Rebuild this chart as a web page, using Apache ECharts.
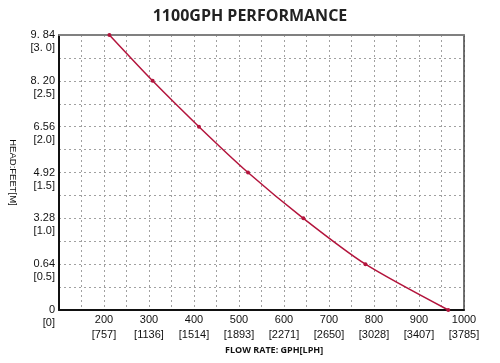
<!DOCTYPE html>
<html>
<head>
<meta charset="utf-8">
<script src="https://cdn.jsdelivr.net/npm/echarts@6/dist/echarts.min.js"></script>
<style>html,body{margin:0;padding:0;background:#fff;}#c{width:500px;height:363px;}</style>
</head>
<body>
<div id="c"></div>
<script>
// Flow (GPH) vs head (metres)
var flowGph = [212, 308, 411, 520, 643, 781, 965];
var headM   = [3.0, 2.5, 2.0, 1.5, 1.0, 0.5, 0.0];

// X tick labels
var xTickGph = [200, 300, 400, 500, 600, 700, 800, 900, 1000];
var xTickLph = ['[757]', '[1136]', '[1514]', '[1893]', '[2271]', '[2650]', '[3028]', '[3407]', '[3785]'];

// Y tick labels (metres -> feet text as printed)
var yTickM    = [0, 0.5, 1.0, 1.5, 2.0, 2.5, 3.0];
var yTickFeet = ['0', '0.64', '3.28', '4.92', '6.56', '8. 20', '9. 84'];
var yTickMTxt = ['[0]', '[0.5]', '[1.0]', '[1.5]', '[2.0]', '[2.5]', '[3. 0]'];

var chart = echarts.init(document.getElementById('c'), null, {renderer: 'canvas'});
var FONT = '"Liberation Sans", Arial, sans-serif';
var gridLine = {show: true, lineStyle: {color: '#a0a0a0', width: 1, type: [2, 3]}};

var data = flowGph.map(function (f, i) { return [f, headM[i]]; });

chart.setOption({
  animation: false,
  backgroundColor: '#ffffff',
  title: {
    text: '1100GPH PERFORMANCE',
    left: 'center',
    top: 3,
    textStyle: {fontFamily: '"Open Sans", sans-serif', fontWeight: 'bold', fontSize: 16, color: '#222'}
  },
  grid: {left: 52, right: 36, top: 35, bottom: 53, containLabel: false},
  xAxis: [{
    type: 'value', min: 100, max: 1000, interval: 50,
    axisLine: {show: true, onZero: false, lineStyle: {color: '#111', width: 2}},
    axisTick: {show: false},
    splitLine: gridLine,
    axisLabel: {
      show: true, margin: 2, verticalAlign: 'top', lineHeight: 15,
      fontFamily: FONT, fontSize: 11, color: '#111',
      showMinLabel: false, showMaxLabel: true,
      formatter: function (v) {
        var i = xTickGph.indexOf(Math.round(v));
        return i < 0 ? '' : xTickGph[i] + '\n' + xTickLph[i];
      }
    }
  }, {
    type: 'value', min: 100, max: 1000, position: 'top',
    axisLine: {show: true, onZero: false, lineStyle: {color: '#808080', width: 2}},
    axisTick: {show: false}, axisLabel: {show: false}, splitLine: {show: false}
  }],
  yAxis: [{
    type: 'value', min: 0, max: 3, interval: 0.25,
    name: 'HEAD:FEET[M]', nameLocation: 'middle', nameRotate: -90, nameGap: 41,
    nameTextStyle: {fontFamily: FONT, fontSize: 9.5, color: '#111'},
    axisLine: {show: true, onZero: false, lineStyle: {color: '#111', width: 2}},
    axisTick: {show: false},
    splitLine: gridLine,
    axisLabel: {
      show: true, margin: 4, lineHeight: 13, align: 'right',
      fontFamily: FONT, fontSize: 11, color: '#111',
      showMinLabel: true, showMaxLabel: true,
      formatter: function (v) {
        var i = -1;
        for (var k = 0; k < yTickM.length; k++) { if (Math.abs(yTickM[k] - v) < 1e-6) i = k; }
        return i < 0 ? '' : '\n' + yTickFeet[i] + '\n' + yTickMTxt[i];
      }
    }
  }, {
    type: 'value', min: 0, max: 3, position: 'right',
    axisLine: {show: true, onZero: false, lineStyle: {color: '#444', width: 1.5}},
    axisTick: {show: false}, axisLabel: {show: false}, splitLine: {show: false}
  }],
  graphic: [{
    type: 'text', left: 225, top: 346,
    style: {text: 'FLOW RATE: GPH[LPH]', fontFamily: '"Open Sans", sans-serif', fontWeight: 'bold', fontSize: 9, fill: '#111'}
  }],
  series: [{
    type: 'line',
    data: data,
    smooth: 0.25,
    symbol: 'circle',
    symbolSize: 4,
    lineStyle: {color: '#b3143c', width: 1.5},
    itemStyle: {color: '#b3143c'},
    clip: false
  }]
});
</script>
</body>
</html>
